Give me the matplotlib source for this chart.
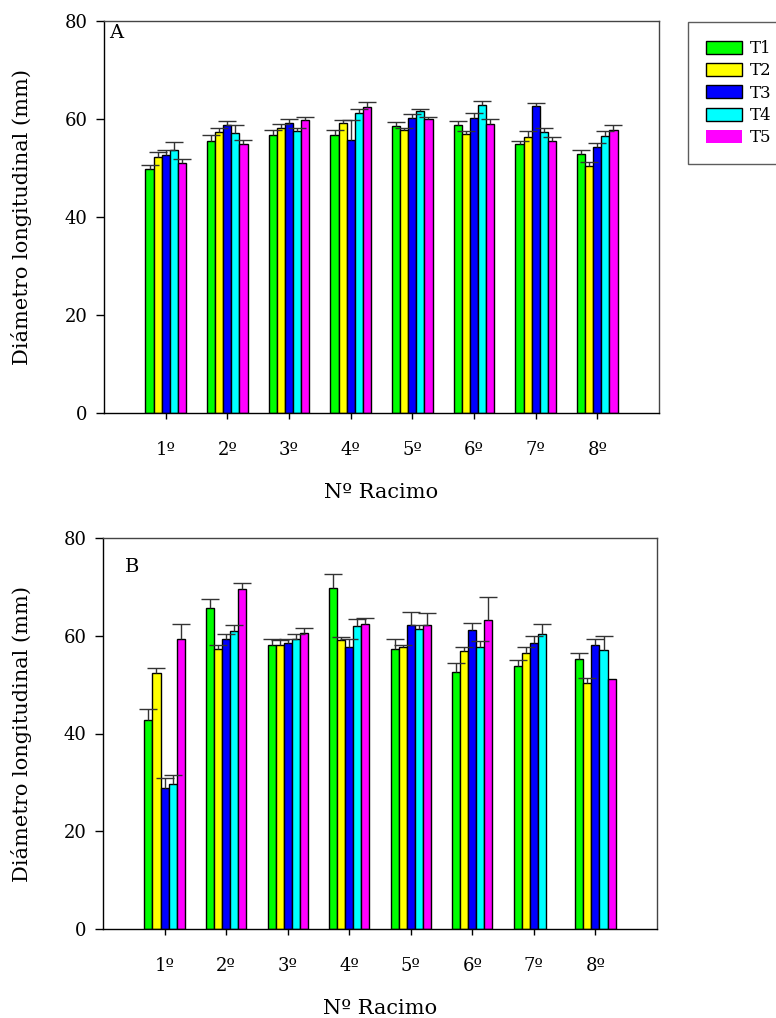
import numpy as np
import matplotlib
matplotlib.use("Agg")
import matplotlib.pyplot as plt
from matplotlib.patches import Patch

plt.rcParams['font.family'] = ['DejaVu Serif']

groups = ['1º', '2º', '3º', '4º', '5º', '6º', '7º', '8º']
treatments = ['T1', 'T2', 'T3', 'T4', 'T5']
colors = ['#00FF00', '#FFFF00', '#0000FF', '#00FFFF', '#FF00FF']

# Panel A: means and upper standard errors
a_T1 = [49.7, 55.5, 56.7, 56.7, 58.5, 58.7, 54.9, 52.8]
a_T2 = [52.2, 57.3, 58.1, 59.1, 57.7, 56.9, 56.4, 50.4]
a_T3 = [52.6, 58.8, 59.1, 55.8, 60.3, 60.3, 62.6, 54.3]
a_T4 = [53.6, 57.1, 57.5, 61.2, 61.6, 62.8, 57.3, 56.5]
a_T5 = [51.1, 55.0, 59.7, 62.4, 60.0, 59.0, 55.5, 57.8]
a_err_T1 = [1.0, 1.2, 1.0, 1.1, 0.8, 0.8, 0.7, 0.8]
a_err_T2 = [1.1, 0.8, 0.9, 0.7, 0.5, 0.6, 1.1, 0.9]
a_err_T3 = [1.0, 0.8, 1.0, 4.0, 0.8, 0.9, 0.6, 0.9]
a_err_T4 = [1.8, 1.7, 0.6, 0.8, 0.5, 0.9, 0.9, 1.0]
a_err_T5 = [0.7, 0.8, 0.7, 1.0, 0.5, 1.1, 0.8, 1.0]

# Panel B
b_T1 = [42.7, 65.6, 58.2, 69.8, 57.3, 52.6, 53.8, 55.2]
b_T2 = [52.3, 57.3, 58.1, 59.2, 57.7, 56.8, 56.4, 50.3]
b_T3 = [28.8, 59.3, 58.6, 57.6, 62.1, 61.1, 58.6, 58.1]
b_T4 = [29.6, 60.9, 59.3, 61.9, 61.3, 57.7, 60.4, 57.1]
b_T5 = [59.3, 69.5, 60.6, 62.5, 62.2, 63.2, np.nan, 51.1]
b_err_T1 = [2.3, 2.0, 1.2, 2.9, 2.1, 1.8, 1.3, 1.2]
b_err_T2 = [1.1, 0.8, 1.0, 0.6, 0.5, 0.8, 1.2, 1.0]
b_err_T3 = [2.0, 1.0, 0.8, 1.8, 2.7, 1.6, 1.4, 1.2]
b_err_T4 = [1.9, 1.4, 1.0, 1.6, 0.9, 1.3, 2.0, 2.9]
b_err_T5 = [3.1, 1.2, 1.0, 1.2, 2.4, 4.7, np.nan, np.nan]

panels = [
    ('A', [a_T1, a_T2, a_T3, a_T4, a_T5],
     [a_err_T1, a_err_T2, a_err_T3, a_err_T4, a_err_T5]),
    ('B', [b_T1, b_T2, b_T3, b_T4, b_T5],
     [b_err_T1, b_err_T2, b_err_T3, b_err_T4, b_err_T5]),
]

W, H = 776, 1018
fig = plt.figure(figsize=(W / 100, H / 100), dpi=100)

# axes rectangles in pixels: left, top, right, bottom
rects = [(104, 21, 659, 413), (103, 538, 657, 929)]
letter_pos = [(0.010, 0.970), (0.040, 0.925)]

width = 0.131
x = np.arange(1, len(groups) + 1)

for (name, means, errs), (l, t, r, b), lp in zip(panels, rects, letter_pos):
    ax = fig.add_axes([l / W, 1 - b / H, (r - l) / W, (b - t) / H])
    for i, (m, e, c) in enumerate(zip(means, errs, colors)):
        xi = x + (i - 2) * width
        m = np.asarray(m, dtype=float)
        e = np.asarray(e, dtype=float)
        ax.bar(xi, m, width=width, color=c, edgecolor='black',
               linewidth=1.0, zorder=2)
        ok = ~np.isnan(e)
        eb = ax.errorbar(xi[ok], m[ok], yerr=[np.zeros(ok.sum()), e[ok]],
                         fmt='none', ecolor='#333333', elinewidth=1.0,
                         capsize=6.5, capthick=1.0, zorder=3)
        caplines = eb[1]
        if len(caplines) >= 1:
            caplines[0].set_visible(False)

    ax.set_xlim(0, 9)
    ax.set_ylim(0, 80)
    ax.set_yticks([0, 20, 40, 60, 80])
    ax.set_xticks(x)
    ax.set_xticklabels(groups)
    ax.tick_params(axis='y', direction='out', length=6, width=1, pad=6,
                   labelsize=13, right=False)
    ax.tick_params(axis='x', direction='out', length=4, width=1, pad=16,
                   labelsize=13, top=False)
    for s in ['left', 'bottom']:
        ax.spines[s].set_color('black')
        ax.spines[s].set_linewidth(1.0)
    for s in ['top', 'right']:
        ax.spines[s].set_color('#444444')
        ax.spines[s].set_linewidth(1.0)

    ax.set_ylabel('Diámetro longitudinal (mm)', fontsize=15, va='center')
    ax.yaxis.set_label_coords((22 - l) / (r - l), 0.5)
    ax.set_xlabel('Nº Racimo', fontsize=15, va='center')
    ax.xaxis.set_label_coords(0.5, -79 / (b - t))

    ax.text(lp[0], lp[1], name, transform=ax.transAxes, fontsize=14,
            ha='left', va='center')

handles = [Patch(facecolor=c, edgecolor=('black' if i < 4 else 'none'),
                 linewidth=1.0) for i, c in enumerate(colors)]
leg = fig.legend(handles, treatments, loc='upper left',
                 bbox_to_anchor=(688 / W, 1 - 22.5 / H),
                 fontsize=12, handlelength=2.2, handleheight=0.8,
                 labelspacing=0.32, handletextpad=0.45, borderpad=1.05,
                 borderaxespad=0, fancybox=False, frameon=True)
leg.get_frame().set_edgecolor('#333333')
leg.get_frame().set_linewidth(1.0)

fig.savefig('out.png', dpi=100)
